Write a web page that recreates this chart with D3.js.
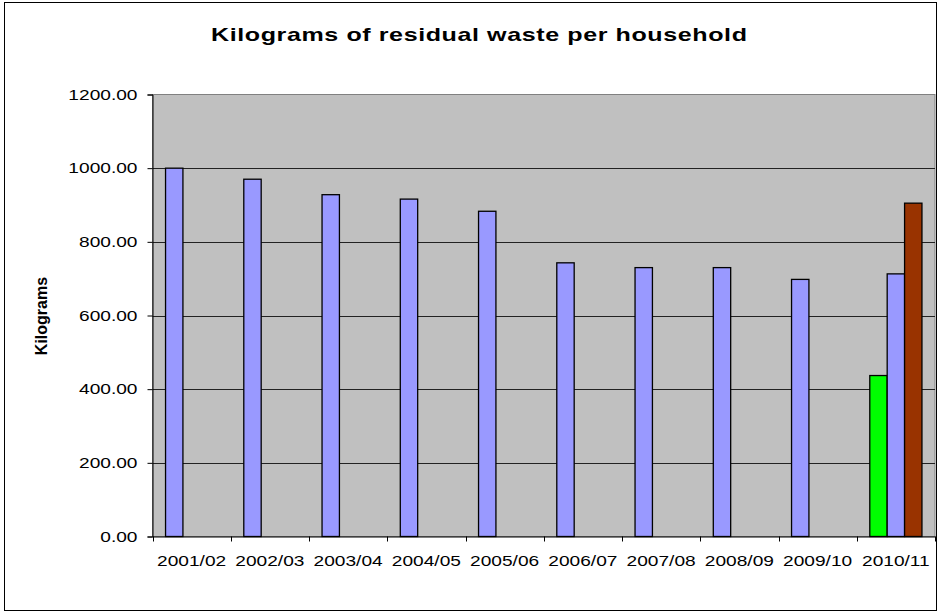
<!DOCTYPE html>
<html><head><meta charset="utf-8">
<script src="https://cdn.jsdelivr.net/npm/d3@7"></script>
<style>body{margin:0;background:#fff}svg{display:block}text{font-family:"Liberation Sans",Arial,sans-serif}</style>
</head><body><svg id="c" width="939" height="614"></svg>
<script>
const categories = ["2001/02","2002/03","2003/04","2004/05","2005/06","2006/07","2007/08","2008/09","2009/10","2010/11"];
const series1 = [1000, 970, 928, 916, 883, 743, 730, 730, 698, 437];
const series2 = [null, null, null, null, null, null, null, null, null, 713];
const series3 = [null, null, null, null, null, null, null, null, null, 905];
const yTicks = [0, 200, 400, 600, 800, 1000, 1200];
const title = "Kilograms of residual waste per household";
const yLabel = "Kilograms";

const SX = 1.32;
const svg = d3.select("#c");
svg.append("rect").attr("x",4.5).attr("y",2.5).attr("width",932).attr("height",608)
  .attr("fill","#fff").attr("stroke","#000").attr("stroke-width",1);

const L=152.5, R=935, T=94.5, B=536.5;
const x = d3.scaleBand().domain(categories).range([L,R]).padding(0);
const y = d3.scaleLinear().domain([0,1200]).range([B,T]);

svg.append("rect").attr("x",L).attr("y",T).attr("width",R-L).attr("height",B-T)
  .attr("fill","#C0C0C0").attr("stroke","#808080").attr("stroke-width",1);

const g = svg.append("g");
g.selectAll("line.grid").data(yTicks.filter(d=>d>0 && d<1200)).join("line")
  .attr("x1",L).attr("x2",R).attr("y1",d=>Math.round(y(d))+0.5).attr("y2",d=>Math.round(y(d))+0.5)
  .attr("stroke","#222").attr("stroke-width",1);

const bw = x.bandwidth()/4.5;
const off = x.bandwidth()*0.75/4.5;
function draw(vals, slot, colorFn){
  g.selectAll(null).data(vals.map((v,i)=>({v,i})).filter(d=>d.v!=null)).join("rect")
    .attr("x",d=>x(categories[d.i])+off+slot*bw)
    .attr("y",d=>y(d.v))
    .attr("width",bw).attr("height",d=>B-y(d.v))
    .attr("fill",d=>colorFn(d.i)).attr("stroke","#000").attr("stroke-width",1.3);
}
draw(series1,0,i=> i===9 ? "#00FF00" : "#9999FF");
draw(series2,1,()=> "#9999FF");
draw(series3,2,()=> "#993300");

const yAxis = d3.axisLeft(y).tickValues(yTicks).tickFormat(d3.format(".2f")).tickSizeOuter(0).tickSize(5).tickPadding(10);
const ya = svg.append("g").attr("transform",`translate(${L},0)`).call(yAxis);
ya.select(".domain").attr("stroke","#000");
ya.selectAll("text").attr("font-size","14.5px").attr("fill","#000")
  .attr("x",-15/SX).attr("transform",`scale(${SX},1)`);

const xAxis = d3.axisBottom(x).tickSize(0).tickSizeOuter(0).tickPadding(0);
const xa = svg.append("g").attr("transform",`translate(0,${B})`).call(xAxis);
xa.select(".domain").attr("stroke","#000");
xa.selectAll("text").attr("font-size","14.5px").attr("fill","#000")
  .attr("dy",null).attr("y",30).attr("transform",`scale(${SX},1)`);
xa.selectAll("line.bt").data(d3.range(categories.length+1)).join("line")
  .attr("x1",i=>Math.round(L+i*x.step())+0.5).attr("x2",i=>Math.round(L+i*x.step())+0.5)
  .attr("y1",0).attr("y2",5).attr("stroke","#000");

svg.append("text").attr("transform",`translate(479,41) scale(${SX},1)`).attr("text-anchor","middle")
  .attr("font-size","19px").attr("font-weight","bold")
  .attr("textLength",536/SX).attr("lengthAdjust","spacing").text(title);
svg.append("text").attr("transform","translate(46.5,316) rotate(-90)").attr("text-anchor","middle")
  .attr("font-size","16px").attr("font-weight","bold").text(yLabel);
</script></body></html>
